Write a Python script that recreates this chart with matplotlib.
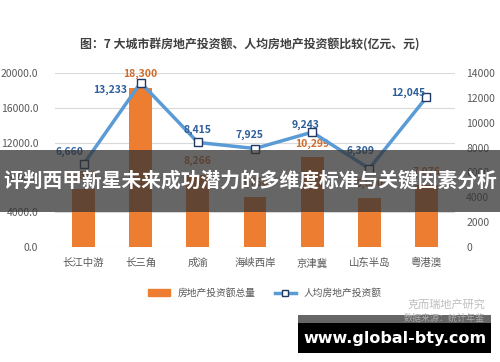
import matplotlib.pyplot as plt
import matplotlib.patches as patches
from matplotlib.lines import Line2D

plt.rcParams['font.family'] = ['Noto Sans CJK SC', 'DejaVu Sans']

# donnees
regions = ['长江中游', '长三角', '成渝', '海峡西岸', '京津冀', '山东半岛', '粤港澳']
invest_total = [6633, 18300, 8266, 5750, 10299, 5630, 7076]
invest_per_capita = [6660, 13233, 8415, 7925, 9243, 6309, 12045]
left_ticks = [0, 4000, 8000, 12000, 16000, 20000]
right_ticks = [0, 2000, 4000, 6000, 8000, 10000, 12000, 14000]

# decalage des etiquettes de la courbe (en points)
line_offsets = [(-10, 9), (-22, -5), (0, 9), (-4, 10), (-5, 5), (-6, 13), (-13, 3)]

orange = '#ED7D31'
blue = '#5B9BD5'
grey = '#595959'

fig = plt.figure(figsize=(5, 3.62), dpi=100)
ax = fig.add_axes([0.11, 0.318, 0.80, 0.48])
ax2 = ax.twinx()

x = range(len(regions))
ax.bar(x, invest_total, width=0.4, color=orange, zorder=2)
ax.set_ylim(0, 20000)
ax.set_xlim(-0.5, len(regions) - 0.5)
ax.set_yticks(left_ticks)
ax.set_yticklabels([f'{v:.1f}' for v in left_ticks])
ax.set_xticks(list(x))
ax.set_xticklabels(regions)
ax.grid(axis='y', color='#D9D9D9', linewidth=0.8, zorder=0)
ax.set_axisbelow(True)

for xi, v in zip(x, invest_total):
    ax.annotate(f'{v:,}', (xi, v), xytext=(0, 10), textcoords='offset points',
                ha='center', va='center', fontsize=7.5, fontweight='bold', color='#D06B2A')

ax2.plot(x, invest_per_capita, color=blue, linewidth=2.5, marker='s', markersize=6,
         markerfacecolor='white', markeredgecolor='#1F3864', markeredgewidth=1.0, zorder=3)
ax2.set_ylim(0, 14000)
ax2.set_yticks(right_ticks)

for xi, v, off in zip(x, invest_per_capita, line_offsets):
    ax2.annotate(f'{v:,}', (xi, v), xytext=off, textcoords='offset points',
                 ha='center', va='center', fontsize=7.5, fontweight='bold', color='#2E5E9A')

for a in (ax, ax2):
    for s in a.spines.values():
        s.set_visible(False)
    a.tick_params(length=0, labelsize=7.5, labelcolor=grey)
ax.tick_params(axis='x', pad=8)
ax.tick_params(axis='y', pad=12)
ax2.tick_params(axis='y', pad=8)

fig.text(0.5, 0.875, '图：7 大城市群房地产投资额、人均房地产投资额比较(亿元、元)',
         ha='center', va='center', fontsize=8.6, fontweight='bold', color='#404040')

# legende
handles = [patches.Patch(color=orange),
           Line2D([0], [0], color=blue, linewidth=2.5, marker='s', markersize=5,
                  markerfacecolor='white', markeredgecolor='#1F3864')]
fig.legend(handles, ['房地产投资额总量', '人均房地产投资额'], loc='center',
           bbox_to_anchor=(0.53, 0.19), ncol=2, frameon=False, fontsize=7,
           labelcolor=grey, handlelength=2.2, columnspacing=2.0)

fig.text(0.97, 0.158, '克而瑞地产研究', ha='right', va='center', fontsize=8, color='#BFBFBF')

# bandeau
fig.patches.append(patches.Rectangle((0, 0.415), 1, 0.172, transform=fig.transFigure,
                                     facecolor='#333333', alpha=0.75, zorder=5))
fig.text(0.5, 0.502, '评判西甲新星未来成功潜力的多维度标准与关键因素分析', ha='center', va='center',
         fontsize=14.2, fontweight='bold', color='white', zorder=6)

# bas de page
fig.patches.append(patches.Rectangle((0.596, 0.108), 0.386, 0.022, transform=fig.transFigure,
                                     facecolor='#666666', zorder=5))
fig.patches.append(patches.Rectangle((0.596, 0.025), 0.386, 0.083, transform=fig.transFigure,
                                     facecolor='black', zorder=5))
fig.text(0.97, 0.12, '数据来源：统计年鉴', ha='right', va='center', fontsize=6.5,
         color='#AAAAAA', zorder=6)
fig.text(0.789, 0.066, 'www.global-bty.com', ha='center', va='center', fontsize=11.5,
         fontweight='bold', color='white', family='DejaVu Sans', zorder=6)

fig.savefig('out.png', dpi=100)
